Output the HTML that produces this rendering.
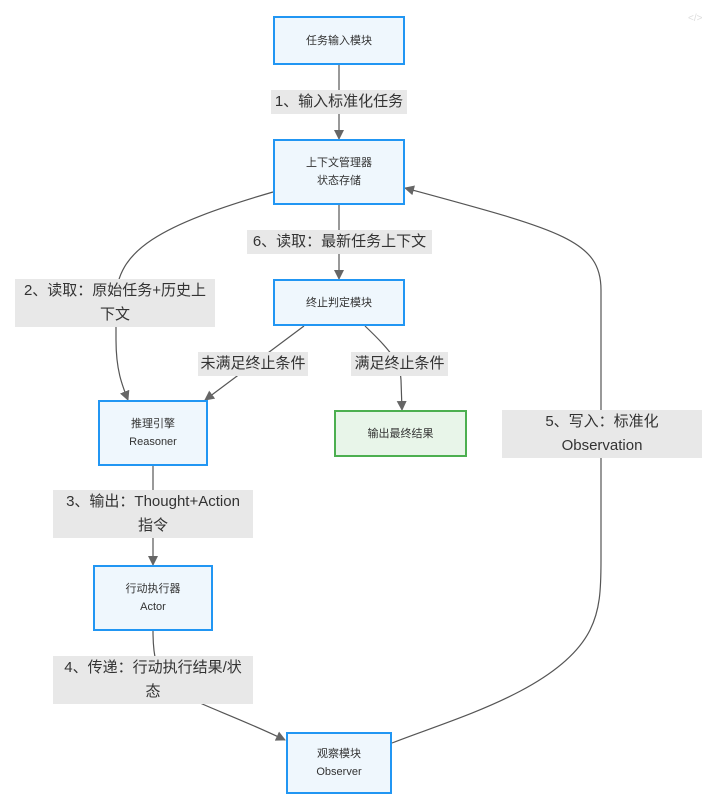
<!DOCTYPE html>
<html><head><meta charset="utf-8"><style>
html,body{margin:0;padding:0;background:#fff;}
body{width:721px;height:804px;position:relative;overflow:hidden;font-family:"Liberation Sans","Noto Sans CJK SC",sans-serif;}
.n{position:absolute;box-sizing:border-box;border:2px solid #2196f3;background:#eff7fd;display:flex;align-items:center;justify-content:center;text-align:center;font-size:11px;line-height:18px;color:#333;}
.g{border-color:#4caf50;background:#e8f5e9;}
.l{position:absolute;background:#e8e8e8;color:#333;font-size:15px;line-height:24px;text-align:center;}
svg{position:absolute;left:0;top:0;}
</style></head><body>
<svg width="721" height="804" viewBox="0 0 721 804">
<defs><marker id="a" markerWidth="10" markerHeight="10" refX="9" refY="5" orient="auto" markerUnits="userSpaceOnUse"><path d="M0,0 L10,5 L0,10 z" fill="#666"/></marker></defs>
<g fill="none" stroke="#555" stroke-width="1.2">
<path d="M339,65 L339,139" marker-end="url(#a)"/>
<path d="M339,205 L339,279" marker-end="url(#a)"/>
<path d="M273,192 C160,225 116,250 116,300 L116,340 C116,370 122,385 128,400" marker-end="url(#a)"/>
<path d="M304,326 L205,400" marker-end="url(#a)"/>
<path d="M365,326 C385,345 400,360 401,380 L402,410" marker-end="url(#a)"/>
<path d="M153,466 L153,565" marker-end="url(#a)"/>
<path d="M153,631 C153,700 180,690 285,740" marker-end="url(#a)"/>
<path d="M392,743 C450,720 560,690 590,630 C600,610 601,590 601,560 L601,290 C601,240 560,230 405,188" marker-end="url(#a)"/>
</g>
<text x="688" y="21" font-size="10" fill="#ddd" font-family="Liberation Sans">&lt;/&gt;</text>
</svg>
<div class="n" style="left:273px;top:16px;width:132px;height:49px;">任务输入模块</div>
<div class="n" style="left:273px;top:139px;width:132px;height:66px;">上下文管理器<br>状态存储</div>
<div class="n" style="left:273px;top:279px;width:132px;height:47px;">终止判定模块</div>
<div class="n" style="left:98px;top:400px;width:110px;height:66px;">推理引擎<br>Reasoner</div>
<div class="n g" style="left:334px;top:410px;width:133px;height:47px;">输出最终结果</div>
<div class="n" style="left:93px;top:565px;width:120px;height:66px;">行动执行器<br>Actor</div>
<div class="n" style="left:286px;top:732px;width:106px;height:62px;">观察模块<br>Observer</div>
<div class="l" style="left:271px;top:90px;width:136px;">1、输入标准化任务</div>
<div class="l" style="left:247px;top:230px;width:185px;">6、读取：最新任务上下文</div>
<div class="l" style="left:15px;top:279px;width:200px;">2、读取：原始任务+历史上<br>下文</div>
<div class="l" style="left:198px;top:352px;width:110px;">未满足终止条件</div>
<div class="l" style="left:351px;top:352px;width:97px;">满足终止条件</div>
<div class="l" style="left:502px;top:410px;width:200px;">5、写入：标准化<br>Observation</div>
<div class="l" style="left:53px;top:490px;width:200px;">3、输出：Thought+Action<br>指令</div>
<div class="l" style="left:53px;top:656px;width:200px;">4、传递：行动执行结果/状<br>态</div>
</body></html>
